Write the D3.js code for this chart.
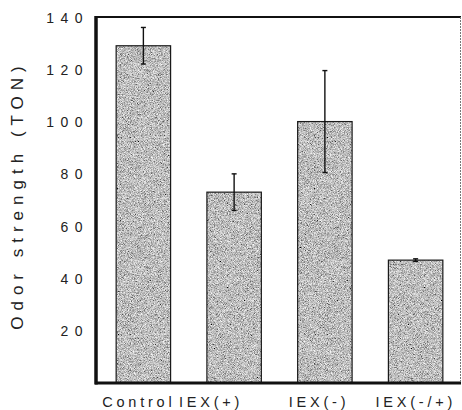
<!DOCTYPE html>
<html>
<head>
<meta charset="utf-8">
<script src="https://cdn.jsdelivr.net/npm/d3@7/dist/d3.min.js"></script>
<style>
  html, body { margin: 0; padding: 0; background: #fff; }
  svg { display: block; }
  text { font-family: "Liberation Sans", Arial, sans-serif; fill: #222; }
</style>
</head>
<body>
<svg id="chart" width="462" height="410"></svg>
<script>
// Odor strength per treatment, with error bar half-lengths
const categories = ["Control", "IEX(+)", "IEX(-)", "IEX(-/+)"];
const values = [129, 73, 100, 47];
const errors = [7, 7, 19.5, 0.5];
const yTicks = [20, 40, 60, 80, 100, 120, 140];

const svg = d3.select("#chart");
const plot = { left: 98, right: 461, top: 17, bottom: 383 };

const x = d3.scaleBand()
  .domain(categories)
  .range([plot.left, plot.right])
  .paddingInner(0.4)
  .paddingOuter(0.2);

const y = d3.scaleLinear()
  .domain([0, 140])
  .range([plot.bottom, plot.top]);

// speckled gray fill for the bars
const defs = svg.append("defs");
const grain = defs.append("filter").attr("id", "grain")
  .attr("x", 0).attr("y", 0).attr("width", 1).attr("height", 1);
grain.append("feTurbulence")
  .attr("type", "fractalNoise").attr("baseFrequency", 1.3)
  .attr("numOctaves", 2).attr("seed", 7).attr("result", "noise");
grain.append("feColorMatrix").attr("in", "noise").attr("type", "matrix")
  .attr("values", "1.4 0 0 0 -0.19  1.4 0 0 0 -0.19  1.4 0 0 0 -0.19  0 0 0 0 1")
  .attr("result", "specks");
grain.append("feComposite").attr("in", "specks").attr("in2", "SourceGraphic")
  .attr("operator", "in");

const bars = svg.append("g");
bars.selectAll("rect.fill")
  .data(categories)
  .join("rect")
  .attr("class", "fill")
  .attr("x", d => x(d))
  .attr("y", (d, i) => y(values[i]))
  .attr("width", x.bandwidth())
  .attr("height", (d, i) => y(0) - y(values[i]))
  .attr("fill", "#999")
  .attr("filter", "url(#grain)");
bars.selectAll("rect.edge")
  .data(categories)
  .join("rect")
  .attr("class", "edge")
  .attr("x", d => x(d))
  .attr("y", (d, i) => y(values[i]))
  .attr("width", x.bandwidth())
  .attr("height", (d, i) => y(0) - y(values[i]))
  .attr("fill", "none")
  .attr("stroke", "#1a1a1a")
  .attr("stroke-width", 1.2);

// error bars
const eb = svg.append("g").attr("stroke", "#111").attr("stroke-width", 1.4);
categories.forEach((c, i) => {
  const cx = x(c) + x.bandwidth() / 2;
  const hi = y(values[i] + errors[i]);
  const lo = y(values[i] - errors[i]);
  eb.append("line").attr("x1", cx).attr("x2", cx).attr("y1", hi).attr("y2", lo);
  eb.append("line").attr("x1", cx - 2.5).attr("x2", cx + 2.5).attr("y1", hi).attr("y2", hi);
  eb.append("line").attr("x1", cx - 2.5).attr("x2", cx + 2.5).attr("y1", lo).attr("y2", lo);
});

// frame
const frame = svg.append("g");
frame.append("line").attr("x1", plot.left - 2).attr("x2", plot.left - 2)
  .attr("y1", plot.top - 1).attr("y2", plot.bottom + 1.5)
  .attr("stroke", "#111").attr("stroke-width", 3.5);
frame.append("line").attr("x1", plot.left - 3).attr("x2", plot.right)
  .attr("y1", plot.top).attr("y2", plot.top)
  .attr("stroke", "#111").attr("stroke-width", 2);
frame.append("line").attr("x1", plot.left - 3).attr("x2", plot.right)
  .attr("y1", plot.bottom).attr("y2", plot.bottom)
  .attr("stroke", "#111").attr("stroke-width", 3);
frame.append("line").attr("x1", plot.right - 0.5).attr("x2", plot.right - 0.5)
  .attr("y1", plot.top).attr("y2", plot.bottom)
  .attr("stroke", "#777").attr("stroke-width", 1).attr("stroke-dasharray", "2,1");

// y axis labels
const yAxis = svg.append("g")
  .attr("transform", `translate(${plot.left - 4},0)`)
  .call(d3.axisLeft(y).tickValues(yTicks).tickSize(0).tickPadding(0));
yAxis.select(".domain").remove();
yAxis.selectAll("text")
  .attr("x", -5)
  .attr("dy", "0.36em")
  .style("font-size", "14px")
  .style("letter-spacing", "6.5px")
  .style("fill", "#222")
  .style("font-family", '"Liberation Sans", Arial, sans-serif');

// x axis labels, set as one typed line under the bars
const labelNudge = [-14, -28, -9, -13];
const xAxis = svg.append("g")
  .attr("transform", `translate(0,${plot.bottom})`)
  .call(d3.axisBottom(x).tickSize(0).tickPadding(0));
xAxis.select(".domain").remove();
xAxis.selectAll(".tick").attr("transform", null);
xAxis.selectAll(".tick text")
  .attr("text-anchor", "start")
  .attr("x", (d, i) => x(d) + labelNudge[i])
  .attr("y", 24)
  .attr("dy", 0)
  .style("font-size", "14.5px")
  .style("letter-spacing", "3.8px")
  .style("fill", "#222")
  .style("font-family", '"Liberation Sans", Arial, sans-serif');

// y axis title
svg.append("text")
  .attr("transform", "translate(23,195) rotate(-90)")
  .attr("text-anchor", "middle")
  .style("font-size", "17px")
  .style("letter-spacing", "6px")
  .text("Odor strength (TON)");
</script>
</body>
</html>
